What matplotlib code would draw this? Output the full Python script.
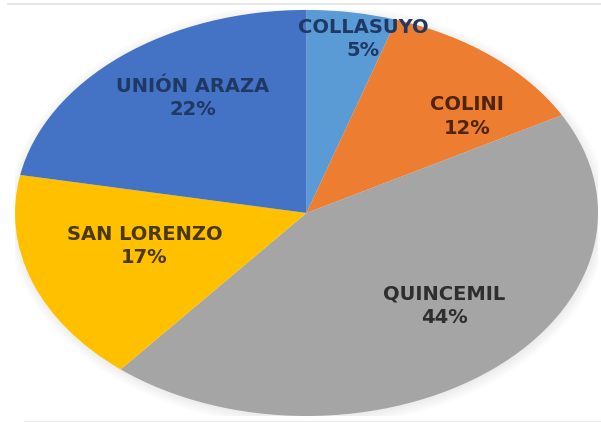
import matplotlib.pyplot as plt
from matplotlib.lines import Line2D
from matplotlib.patches import Ellipse

zonas = ['COLLASUYO', 'COLINI', 'QUINCEMIL', 'SAN LORENZO', 'UNIÓN ARAZA']
porcentajes = [5, 12, 44, 17, 22]
colores = ['#5B9BD5', '#ED7D31', '#A5A5A5', '#FFC000', '#4472C4']
col_texto = ['#1F3864', '#4F2408', '#2E2E2E', '#4A3800', '#1F3864']
# label centres (axes data coords, pie is drawn stretched into the figure)
pos_texto = [(0.194, 0.857), (0.551, 0.475), (0.472, -0.458),
             (-0.556, -0.163), (-0.389, 0.567)]

fig = plt.figure(figsize=(6.01, 4.23), dpi=100)
ax = fig.add_axes([0.025, 0.0165, 0.970, 0.96])

# faint soft shadow around the pie
for k in range(6):
    ax.add_patch(Ellipse((0.004, -0.01), 2 + 0.012 * k, 2 + 0.018 * k,
                         color='#808080', alpha=0.025, lw=0, zorder=0))

ax.pie(porcentajes, colors=colores, startangle=90, counterclock=False,
       radius=1, wedgeprops=dict(linewidth=0))
ax.set_aspect('auto')
ax.set_xlim(-1, 1)
ax.set_ylim(-1, 1)
ax.axis('off')

for z, p, (x, y), c in zip(zonas, porcentajes, pos_texto, col_texto):
    ax.text(x, y, f'{z}\n{p}%', ha='center', va='center', color=c,
            fontsize=14, fontweight='bold', family='DejaVu Sans',
            linespacing=1.3)

# thin frame lines of the original screenshot
fig.add_artist(Line2D([0.013, 1], [0.991, 0.991], color='#e2e2e2', lw=1.2))
fig.add_artist(Line2D([0.04, 1], [0.005, 0.005], color='#ececec', lw=1))

fig.savefig('out.png', dpi=100)
